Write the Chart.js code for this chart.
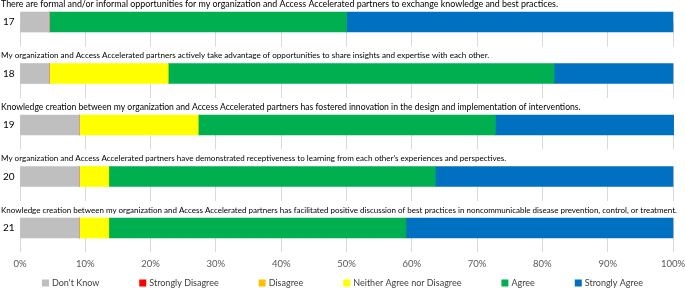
<!DOCTYPE html>
<html>
<head>
<meta charset="utf-8">
<script src="https://cdn.jsdelivr.net/npm/chart.js@4.4.1/dist/chart.umd.min.js"></script>
<style>
  html, body { margin: 0; padding: 0; background: #fff; }
  #wrap { width: 685px; height: 288px; position: relative; }
</style>
</head>
<body>
<div id="wrap"><canvas id="chart"></canvas></div>
<script>
// data (% of respondents)
const items = ["17", "18", "19", "20", "21"];
const questions = [
    "There are formal and/or informal opportunities for my organization and Access Accelerated partners to exchange knowledge and best practices.",
    "My organization and Access Accelerated partners actively take advantage of opportunities to share insights and expertise with each other.",
    "Knowledge creation between my organization and Access Accelerated partners has fostered innovation in the design and implementation of interventions.",
    "My organization and Access Accelerated partners have demonstrated receptiveness to learning from each other\u2019s experiences and perspectives.",
    "Knowledge creation between my organization and Access Accelerated partners has facilitated positive discussion of best practices in noncommunicable disease prevention, control, or treatment."
];
const dontKnow = [4.5, 4.5, 9.1, 9.1, 9.1];
const stronglyDisagree = [0, 0, 0, 0, 0];
const disagree = [0, 0, 0, 0, 0];
const neither = [0, 18.2, 18.2, 4.5, 4.5];
const agree = [45.5, 59.1, 45.5, 50.0, 45.5];
const stronglyAgree = [50.0, 18.2, 27.3, 36.4, 40.9];
const xTicks = [0, 10, 20, 30, 40, 50, 60, 70, 80, 90, 100];

const FONT = "Lato, 'Open Sans', sans-serif";
const BAR_H = 20;
// the question boxes in the original are not all the same text size
const titleSizes = [8.9, 8.1, 8.6, 8.05, 8.0];

const series = [
    { label: "Don't Know", data: dontKnow, color: "#BFBFBF" },
    { label: "Strongly Disagree", data: stronglyDisagree, color: "#FF0000" },
    { label: "Disagree", data: disagree, color: "#FFC000" },
    { label: "Neither Agree nor Disagree", data: neither, color: "#FFFF00" },
    { label: "Agree", data: agree, color: "#00B050" },
    { label: "Strongly Agree", data: stronglyAgree, color: "#0070C0" }
];

// question text above each bar, on a white strip so the grid doesn't show through
const questionTitles = {
    id: "questionTitles",
    beforeDatasetsDraw(chart) {
        const ctx = chart.ctx;
        const y = chart.scales.y;
        ctx.save();
        ctx.textBaseline = "middle";
        ctx.textAlign = "left";
        questions.forEach((q, i) => {
            const top = y.getPixelForValue(i) - BAR_H / 2;
            ctx.fillStyle = "#fff";
            ctx.fillRect(chart.chartArea.left - 1, top - 17, chart.chartArea.right - chart.chartArea.left + 3, 17);
            ctx.font = titleSizes[i] + "px " + FONT;
            ctx.fillStyle = "#000";
            ctx.fillText(q, 1, top - 8);
        });
        ctx.restore();
    }
};

// legend drawn by hand so the spacing can match Excel's
const bottomLegend = {
    id: "bottomLegend",
    afterDraw(chart) {
        const ctx = chart.ctx;
        ctx.save();
        ctx.font = "9px " + FONT;
        ctx.textBaseline = "middle";
        const box = 7, gap = 3, spacing = 40;
        const widths = chart.data.datasets.map(d => box + gap + ctx.measureText(d.label).width);
        const total = widths.reduce((a, b) => a + b, 0) + spacing * (widths.length - 1);
        let x = (chart.width - total) / 2;
        const cy = 283;
        chart.data.datasets.forEach((d, i) => {
            ctx.fillStyle = d.backgroundColor;
            ctx.fillRect(x, cy - box / 2, box, box);
            ctx.fillStyle = "#404040";
            ctx.fillText(d.label, x + box + gap, cy + 0.5);
            x += widths[i] + spacing;
        });
        ctx.restore();
    }
};

new Chart(document.getElementById("chart"), {
    type: "bar",
    data: {
        labels: items,
        datasets: series.map(s => ({
            label: s.label,
            data: s.data,
            backgroundColor: s.color,
            borderWidth: 0,
            barThickness: BAR_H,
            clip: false
        }))
    },
    options: {
        indexAxis: "y",
        responsive: true,
        maintainAspectRatio: false,
        animation: false,
        layout: { padding: { top: 22, right: 12, left: 3, bottom: 0 } },
        scales: {
            x: {
                stacked: true,
                min: 0,
                max: 100,
                afterBuildTicks: (scale) => { scale.ticks = xTicks.map(v => ({ value: v })); },
                afterFit: (scale) => {
                    scale.height = 60;
                    scale.paddingLeft = 0;
                    scale.paddingRight = 0;
                },
                grid: { color: "#D9D9D9", lineWidth: 1, tickLength: 24, drawTicks: true },
                border: { display: false },
                ticks: {
                    padding: 6,
                    color: "#595959",
                    font: { family: FONT, size: 9.5 },
                    maxRotation: 0,
                    callback: (v) => v + "%"
                }
            },
            y: {
                stacked: true,
                offset: false,
                afterFit: (scale) => { scale.width = 17; },
                grid: { display: false },
                border: { display: false },
                ticks: {
                    crossAlign: "far",
                    padding: 0,
                    color: "#000",
                    font: { family: FONT, size: 10 }
                }
            }
        },
        plugins: {
            legend: { display: false },
            tooltip: { enabled: false }
        }
    },
    plugins: [questionTitles, bottomLegend]
});
</script>
</body>
</html>
